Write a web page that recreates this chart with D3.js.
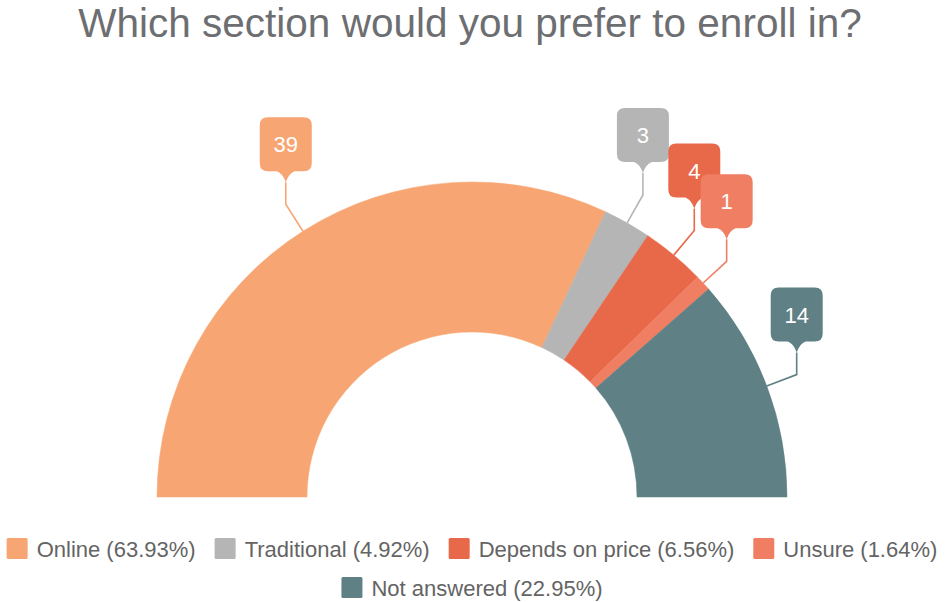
<!DOCTYPE html>
<html>
<head>
<meta charset="utf-8">
<script src="https://cdn.jsdelivr.net/npm/d3@7"></script>
<style>
  html, body { margin: 0; padding: 0; background: #fff; }
  svg { display: block; font-family: "Liberation Sans", Arial, sans-serif; }
</style>
</head>
<body>
<script>
"use strict";

var categories = ["Online", "Traditional", "Depends on price", "Unsure", "Not answered"];
var counts = [39, 3, 4, 1, 14];
var colors = ["#F7A673", "#B5B5B5", "#E8694A", "#F07E62", "#5F8084"];
var title = "Which section would you prefer to enroll in?";

var width = 945, height = 602;
var cx = 472, cy = 497;
var outerR = 315, innerR = 165;

function makeChart(){
    var svg = d3.select("body").append("svg")
        .attr("width", width).attr("height", height);

    svg.append("text")
        .attr("x", 470).attr("y", 37)
        .attr("text-anchor", "middle")
        .attr("font-size", 40.5)
        .attr("fill", "#6d6e71")
        .text(title);

    var data = categories.map(function(c, i){ return {name: c, value: counts[i], color: colors[i]}; });
    var total = d3.sum(counts);
    var pct = d3.format(".2%");

    var pie = d3.pie().value(function(d){ return d.value; })
        .sort(null).startAngle(-Math.PI / 2).endAngle(Math.PI / 2);
    var arc = d3.arc().innerRadius(innerR).outerRadius(outerR);
    var arcs = pie(data);

    var g = svg.append("g").attr("transform", "translate(" + cx + "," + cy + ")");
    g.selectAll("path.slice").data(arcs).enter().append("path")
        .attr("class", "slice")
        .attr("d", arc)
        .attr("fill", function(d){ return d.data.color; })
        .attr("stroke", function(d){ return d.data.color; })
        .attr("stroke-width", 0.5);

    // callouts
    var boxW = 52, boxH = 54, tail = 11, rad = 8, stem = 22, elbowOut = 32;
    function polar(a, r){ return [r * Math.sin(a), -r * Math.cos(a)]; }

    var labels = g.selectAll("g.callout").data(arcs).enter().append("g").attr("class", "callout");
    labels.each(function(d){
        var sel = d3.select(this);
        var a = (d.startAngle + d.endAngle) / 2;
        var p0 = polar(a, outerR), p1 = polar(a, outerR + elbowOut);
        var tip = [p1[0], p1[1] - stem];
        sel.append("path")
            .attr("d", d3.line()([p0, p1, tip]))
            .attr("fill", "none")
            .attr("stroke", d.data.color)
            .attr("stroke-width", 1.6);

        var x0 = tip[0] - boxW / 2, x1 = tip[0] + boxW / 2;
        var yb = tip[1] - tail, yt = yb - boxH;
        var p = d3.path();
        p.moveTo(x0 + rad, yt);
        p.lineTo(x1 - rad, yt);
        p.quadraticCurveTo(x1, yt, x1, yt + rad);
        p.lineTo(x1, yb - rad);
        p.quadraticCurveTo(x1, yb, x1 - rad, yb);
        p.lineTo(tip[0] + 9, yb);
        p.quadraticCurveTo(tip[0] + 3, yb + 2, tip[0], tip[1]);
        p.quadraticCurveTo(tip[0] - 3, yb + 2, tip[0] - 9, yb);
        p.lineTo(x0 + rad, yb);
        p.quadraticCurveTo(x0, yb, x0, yb - rad);
        p.lineTo(x0, yt + rad);
        p.quadraticCurveTo(x0, yt, x0 + rad, yt);
        p.closePath();
        sel.append("path").attr("d", p.toString()).attr("fill", d.data.color);

        sel.append("text")
            .attr("x", tip[0]).attr("y", yt + boxH / 2 + 8)
            .attr("text-anchor", "middle")
            .attr("font-size", 22)
            .attr("fill", "#fff")
            .text(d.data.value);
    });

    // legend
    var sw = 21, gapText = 9, gapItem = 19, rowH = 39, legendTop = 538, fs = 22;
    var legend = svg.append("g");
    var items = data.map(function(d){
        var it = legend.append("g");
        it.append("rect").attr("width", sw).attr("height", sw).attr("rx", 1.5).attr("fill", d.color);
        var t = it.append("text").attr("x", sw + gapText).attr("y", 19)
            .attr("font-size", fs).attr("fill", "#646464")
            .text(d.name + " (" + pct(d.value / total) + ")");
        return {g: it, w: sw + gapText + t.node().getComputedTextLength()};
    });
    var rows = [[]], rowW = [0];
    items.forEach(function(it){
        var r = rows.length - 1;
        var add = (rows[r].length ? gapItem : 0) + it.w;
        if (rows[r].length && rowW[r] + add > width - 4) { rows.push([it]); rowW.push(it.w); }
        else { rows[r].push(it); rowW[r] += add; }
    });
    rows.forEach(function(row, r){
        var x = 472 - rowW[r] / 2;
        row.forEach(function(it){
            it.g.attr("transform", "translate(" + x + "," + (legendTop + r * rowH) + ")");
            x += it.w + gapItem;
        });
    });
}

makeChart();
</script>
</body>
</html>
